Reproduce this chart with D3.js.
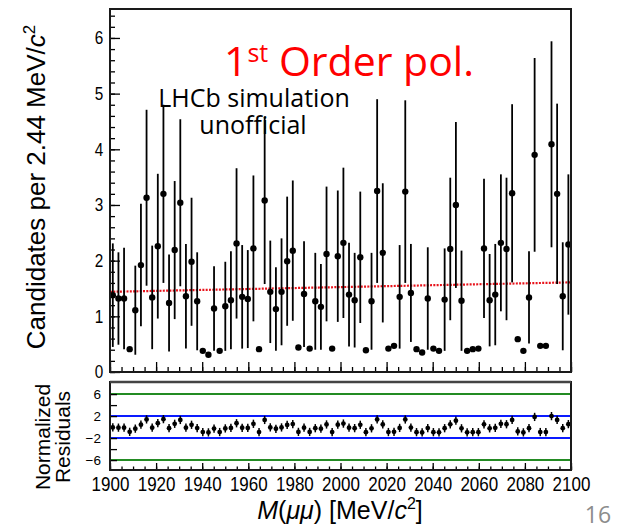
<!DOCTYPE html>
<html>
<head>
<meta charset="utf-8">
<script src="https://cdn.jsdelivr.net/npm/d3@7"></script>
<style>
  body { margin: 0; background: #fff; }
  svg { display: block; }
</style>
</head>
<body>
<svg id="chart" width="623" height="529"></svg>
<script>
// Dimuon mass spectrum, 2.44 MeV bins from 1900 to 2100 MeV
const massLow = 1900;
const massHigh = 2100;
const binWidth = 2.44;

// Candidates per bin
const counts = [
  1.38, 1.32, 1.32, 0.41, 1.11, 1.92, 3.13, 1.34, 2.26, 3.20,
  1.24, 2.19, 3.04, 1.36, 1.98, 1.27, 0.38, 0.31, 1.14, 0.38,
  1.18, 1.29, 2.31, 1.35, 1.31, 2.22, 0.41, 3.08, 1.44, 1.13,
  1.44, 1.99, 2.18, 0.44, 1.40, 0.42, 1.27, 1.17, 2.12, 0.42,
  2.08, 2.32, 1.39, 1.29, 2.06, 0.39, 1.27, 3.25, 2.14, 0.42,
  0.47, 1.35, 3.24, 1.42, 0.41, 0.35, 1.32, 0.42, 0.38, 1.30,
  2.21, 3.00, 1.28, 0.38, 0.41, 0.42, 2.22, 1.29, 1.39, 2.32,
  2.21, 3.21, 0.59, 0.38, 1.34, 3.90, 0.47, 0.47, 4.09, 3.20,
  1.36, 2.29
];

// Uncertainty on each bin
const countErrors = [
  0.93, 0.83, 0.91, 0.00, 0.80, 1.10, 1.58, 0.93, 1.30, 1.60,
  0.87, 1.24, 1.50, 0.94, 1.15, 0.88, 0.00, 0.00, 0.76, 0.00,
  0.80, 0.88, 1.35, 0.93, 0.88, 1.31, 0.00, 1.50, 0.92, 0.75,
  0.96, 1.16, 1.26, 0.00, 0.95, 0.00, 0.87, 0.77, 1.21, 0.00,
  1.18, 1.35, 0.93, 0.85, 1.18, 0.00, 0.87, 1.65, 1.25, 0.00,
  0.00, 0.93, 1.64, 0.88, 0.00, 0.00, 0.92, 0.00, 0.00, 0.92,
  1.28, 1.49, 0.90, 0.00, 0.00, 0.00, 1.25, 0.83, 0.91, 1.23,
  1.28, 1.60, 0.00, 0.00, 0.83, 1.74, 0.00, 0.00, 1.85, 1.62,
  0.97, 1.26
];

// Normalized residuals with respect to the first-order polynomial fit
const residuals = [
  -0.05, -0.10, -0.10, -0.86, -0.28, 0.45, 1.40, -0.10, 0.72, 1.45,
  -0.19, 0.60, 1.30, -0.10, 0.42, -0.17, -0.90, -0.96, -0.27, -0.90,
  -0.24, -0.15, 0.70, -0.12, -0.16, 0.60, -0.90, 1.30, -0.05, -0.30,
  -0.06, 0.40, 0.55, -0.87, -0.10, -0.88, -0.20, -0.28, 0.48, -0.90,
  0.45, 0.64, -0.11, -0.19, 0.42, -0.93, -0.22, 1.40, 0.48, -0.90,
  -0.86, -0.15, 1.39, -0.09, -0.92, -0.97, -0.18, -0.92, -0.95, -0.20,
  0.50, 1.16, -0.22, -0.95, -0.93, -0.92, 0.50, -0.22, -0.14, 0.60,
  0.52, 1.30, -0.79, -0.96, -0.20, 1.85, -0.90, -0.90, 2.00, 1.30,
  -0.19, 0.54
];
const residualError = 0.75;

// Linear background fit (end points)
const fitMass = [1900, 2100];
const fitValue = [1.44, 1.61];

// Axis ticks
const yTicks = [0, 1, 2, 3, 4, 5, 6];
const xTicks = [1900, 1920, 1940, 1960, 1980, 2000, 2020, 2040, 2060, 2080, 2100];
const residualTicks = [-6, -4, -2, 2, 4, 6];
const residualTickLabels = [-6, -2, 2, 6];
const outerBand = [-6, 6];
const innerBand = [-2, 2];

// ---------------------------------------------------------------
const svg = d3.select("#chart");
const FONT = "'Liberation Sans', Arial, Helvetica, sans-serif";
const CALI = "'Open Sans', 'Noto Sans', sans-serif";

const plotL = 110, plotR = 571;
const mainTop = 9, mainBottom = 372;
const resTop = 382, resBottom = 470;

const x = d3.scaleLinear().domain([massLow, massHigh]).range([plotL, plotR]);
const y = d3.scaleLinear().domain([0, 6.52]).range([mainBottom, mainTop]);
const yr = d3.scaleLinear().domain([-7.8, 8.2]).range([resBottom, resTop]);

const bins = counts.map((v, i) => ({
  m: massLow + binWidth * (i + 0.5),
  v: v,
  e: countErrors[i],
  r: residuals[i]
}));

// minor tick positions
const xMinor = d3.range(massLow, massHigh + 0.1, 5);
const yMinor = d3.range(0, 6.5, 0.2).map(v => +v.toFixed(2));

function styleAxis(g) {
  g.select(".domain").remove();
  g.selectAll(".tick line").attr("stroke", "#000").attr("stroke-width", 1.3);
}

// ---------------- main panel ----------------
svg.append("g").attr("transform", `translate(${plotL},0)`)
  .call(d3.axisLeft(y).tickValues(yMinor).tickSizeInner(-5).tickSizeOuter(0).tickFormat(""))
  .call(styleAxis);
const yAx = svg.append("g").attr("transform", `translate(${plotL},0)`)
  .call(d3.axisLeft(y).tickValues(yTicks).tickSizeInner(-10).tickSizeOuter(0).tickPadding(8).tickFormat(d3.format("d")))
  .call(styleAxis);
yAx.selectAll("text")
  .attr("font-family", FONT).attr("font-size", 18).attr("fill", "#000")
  .attr("transform", "scale(0.85,1)");

svg.append("g").attr("transform", `translate(0,${mainBottom})`)
  .call(d3.axisBottom(x).tickValues(xMinor).tickSizeInner(-5).tickSizeOuter(0).tickFormat(""))
  .call(styleAxis);
svg.append("g").attr("transform", `translate(0,${mainBottom})`)
  .call(d3.axisBottom(x).tickValues(xTicks).tickSizeInner(-10).tickSizeOuter(0).tickFormat(""))
  .call(styleAxis);

// fit line
const fitLine = d3.line().x(d => x(d[0])).y(d => y(d[1]));
svg.append("path")
  .datum(d3.zip(fitMass, fitValue))
  .attr("d", fitLine)
  .attr("fill", "none")
  .attr("stroke", "#e8141c")
  .attr("stroke-width", 2.2)
  .attr("stroke-dasharray", "2,1.3");

// error bars and points
const pts = svg.append("g");
pts.selectAll("line.err").data(bins.filter(d => d.e > 0)).join("line")
  .attr("class", "err")
  .attr("x1", d => x(d.m)).attr("x2", d => x(d.m))
  .attr("y1", d => y(d.v + d.e)).attr("y2", d => y(d.v - d.e))
  .attr("stroke", "#000").attr("stroke-width", 1.8);
pts.selectAll("circle").data(bins).join("circle")
  .attr("cx", d => x(d.m)).attr("cy", d => y(d.v)).attr("r", 3.2)
  .attr("fill", "#000");

svg.append("rect")
  .attr("x", plotL).attr("y", mainTop)
  .attr("width", plotR - plotL).attr("height", mainBottom - mainTop)
  .attr("fill", "none").attr("stroke", "#1a1a1a").attr("stroke-width", 2);

// ---------------- residual panel ----------------
const bandLine = (vals, color) => svg.append("g").selectAll("line").data(vals).join("line")
  .attr("x1", plotL).attr("x2", plotR)
  .attr("y1", d => yr(d)).attr("y2", d => yr(d))
  .attr("stroke", color).attr("stroke-width", 2);
bandLine(outerBand, "#238b23");
bandLine(innerBand, "#0a1aff");

svg.append("g").attr("transform", `translate(${plotL},0)`)
  .call(d3.axisLeft(yr).tickValues(residualTicks).tickSizeInner(-7).tickSizeOuter(0).tickFormat(""))
  .call(styleAxis);
svg.append("g").selectAll("text").data(residualTickLabels).join("text")
  .attr("x", 101).attr("y", d => yr(d)).attr("dy", "0.36em")
  .attr("text-anchor", "end")
  .attr("font-family", FONT).attr("font-size", 13.5)
  .text(d => d < 0 ? "\u2212" + Math.abs(d) : d);

svg.append("g").attr("transform", `translate(0,${resBottom})`)
  .call(d3.axisBottom(x).tickValues(xMinor).tickSizeInner(-3.5).tickSizeOuter(0).tickFormat(""))
  .call(styleAxis);
const xAx = svg.append("g").attr("transform", `translate(0,${resBottom})`)
  .call(d3.axisBottom(x).tickValues(xTicks).tickSizeInner(-7).tickSizeOuter(0).tickPadding(7).tickFormat(d3.format("d")))
  .call(styleAxis);
xAx.selectAll("text")
  .attr("font-family", FONT).attr("font-size", 20).attr("fill", "#000")
  .attr("transform", "scale(0.85,1)");

const rpts = svg.append("g");
rpts.selectAll("line").data(bins).join("line")
  .attr("x1", d => x(d.m)).attr("x2", d => x(d.m))
  .attr("y1", d => yr(d.r + residualError)).attr("y2", d => yr(d.r - residualError))
  .attr("stroke", "#000").attr("stroke-width", 1.5);
rpts.selectAll("circle").data(bins).join("circle")
  .attr("cx", d => x(d.m)).attr("cy", d => yr(d.r)).attr("r", 2.4)
  .attr("fill", "#000");

svg.append("rect")
  .attr("x", plotL).attr("y", resTop)
  .attr("width", plotR - plotL).attr("height", resBottom - resTop)
  .attr("fill", "none").attr("stroke", "#1a1a1a").attr("stroke-width", 2);
svg.append("line")
  .attr("x1", plotL).attr("x2", plotR).attr("y1", resTop).attr("y2", resTop)
  .attr("stroke", "#444").attr("stroke-width", 2.5);

// ---------------- titles ----------------
svg.append("text")
  .attr("transform", "translate(45,187) rotate(-90)")
  .attr("text-anchor", "middle")
  .attr("font-family", FONT).attr("font-size", 26)
  .html('Candidates per 2.44 MeV/<tspan font-style="italic">c</tspan><tspan dy="-10" font-size="17">2</tspan>');

svg.append("text")
  .attr("transform", "translate(50,437) rotate(-90)")
  .attr("text-anchor", "middle")
  .attr("font-family", FONT).attr("font-size", 21)
  .text("Normalized");
svg.append("text")
  .attr("transform", "translate(70,437) rotate(-90)")
  .attr("text-anchor", "middle")
  .attr("font-family", FONT).attr("font-size", 21)
  .text("Residuals");

svg.append("text")
  .attr("x", 340).attr("y", 519)
  .attr("text-anchor", "middle")
  .attr("font-family", FONT).attr("font-size", 25)
  .html('<tspan font-style="italic">M</tspan>(<tspan font-style="italic">\u03bc\u03bc</tspan>) [MeV/<tspan font-style="italic">c</tspan><tspan dy="-10" font-size="16">2</tspan><tspan dy="10">]</tspan>');

// fit-model label
svg.append("text")
  .attr("x", 224).attr("y", 76)
  .attr("font-family", CALI).attr("font-size", 41).attr("fill", "#ff0000")
  .html('1<tspan dy="-14" font-size="25">st</tspan><tspan dy="14"> Order pol.</tspan>');

// experiment label
const lhcb = svg.append("text")
  .attr("x", 254).attr("y", 107)
  .attr("text-anchor", "middle")
  .attr("font-family", CALI).attr("font-size", 25).attr("fill", "#000");
lhcb.append("tspan").attr("x", 254).attr("y", 107).text("LHCb simulation");
lhcb.append("tspan").attr("x", 253).attr("y", 134).text("unofficial");

svg.append("text")
  .attr("x", 598).attr("y", 523)
  .attr("text-anchor", "middle")
  .attr("font-family", CALI).attr("font-size", 23).attr("fill", "#8c8c8c")
  .text("16");
</script>
</body>
</html>
